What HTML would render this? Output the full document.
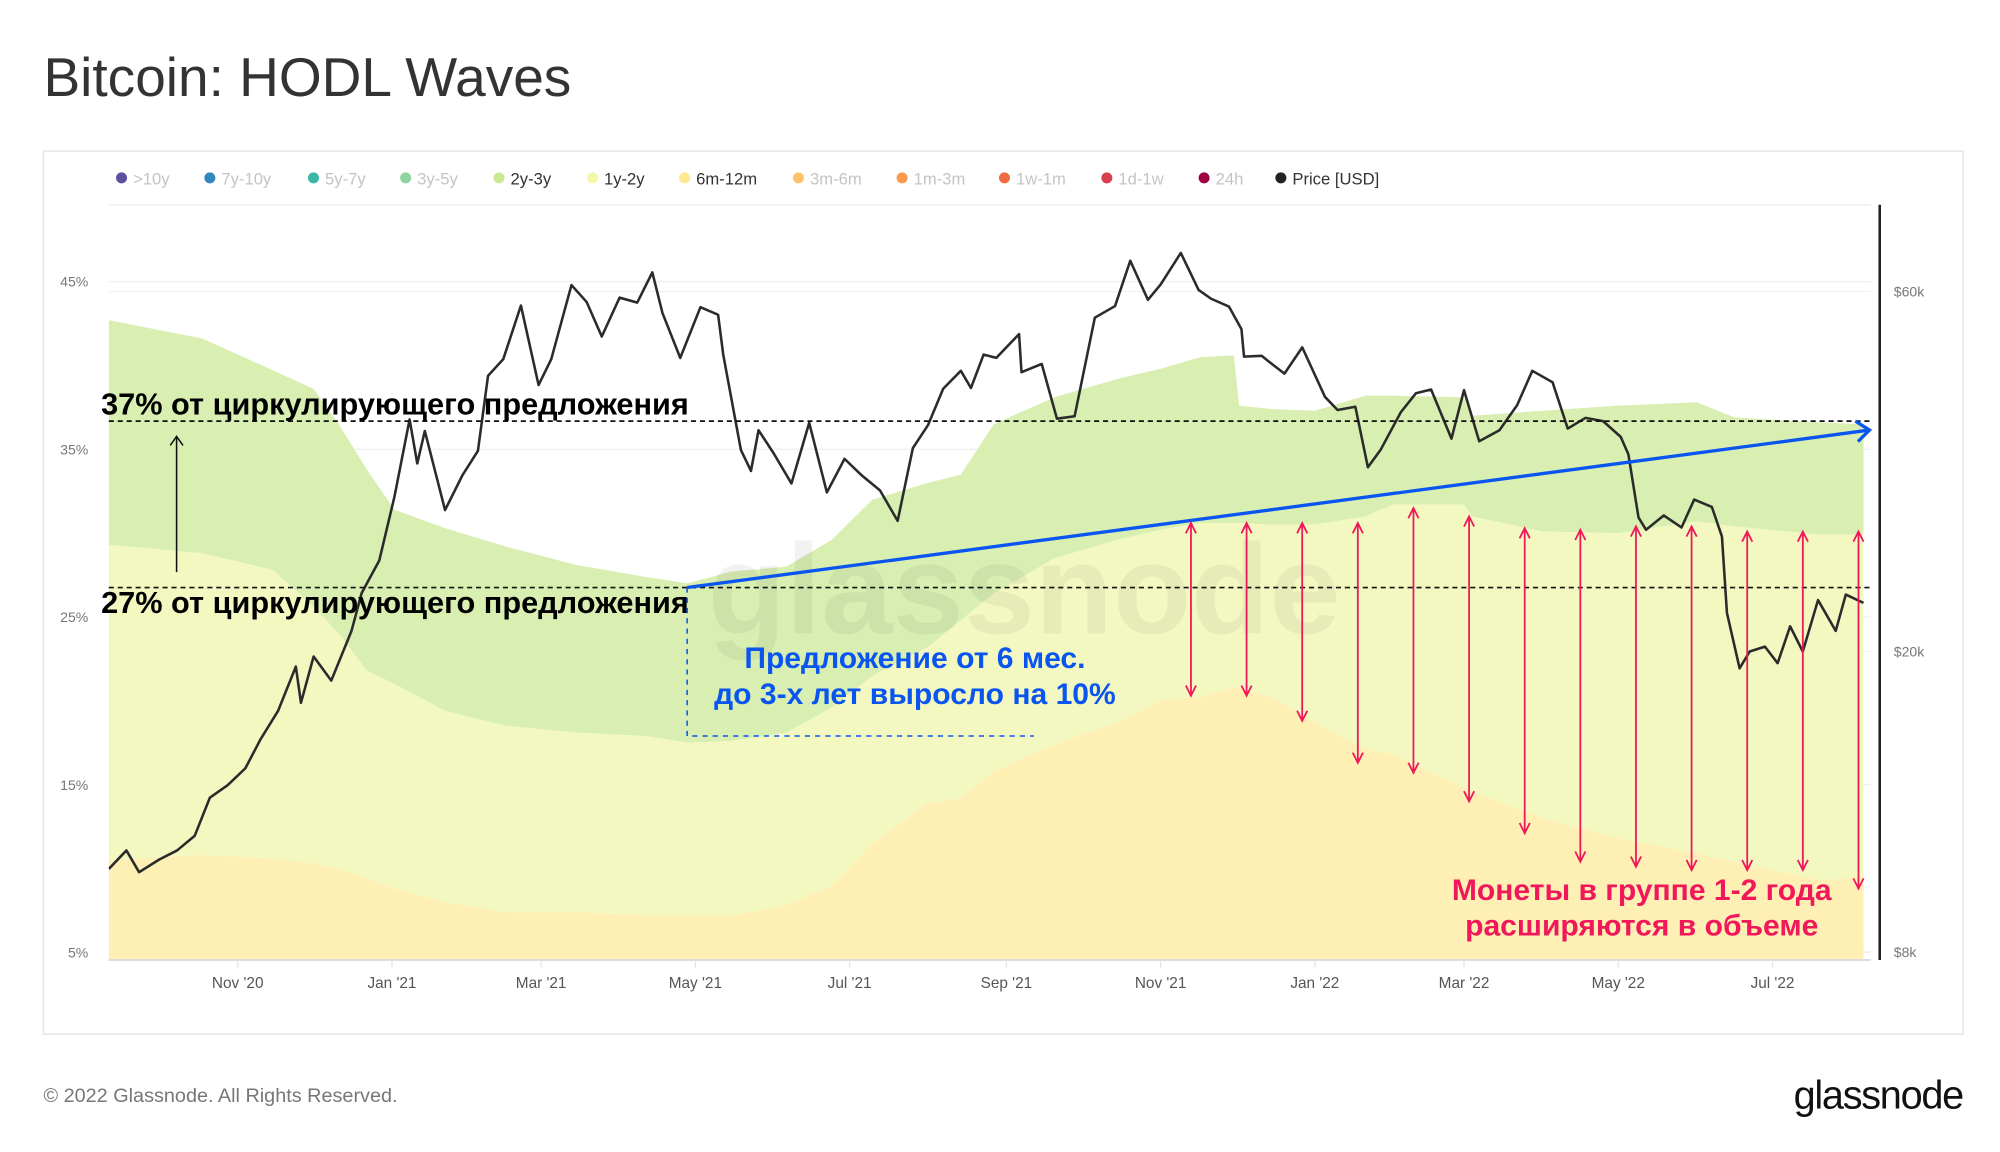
<!DOCTYPE html>
<html><head><meta charset="utf-8"><style>
html,body{margin:0;padding:0;background:#fff;}
svg{display:block;font-family:"Liberation Sans","DejaVu Sans",sans-serif;}
</style></head><body>
<svg id="chart" width="2000" height="1152" viewBox="0 0 1563 900" preserveAspectRatio="none" xmlns="http://www.w3.org/2000/svg">
<text x="34" y="75" font-size="43" fill="#333">Bitcoin: HODL Waves</text>
<rect x="34" y="118" width="1500" height="690" fill="#fff" stroke="#e6e6e6" stroke-width="1.2"/>
<g id="legend"></g>
<g id="grid"></g>
<defs><clipPath id="plotclip"><rect x="85" y="160" width="1377" height="590"/></clipPath></defs>
<g id="bands" clip-path="url(#plotclip)"></g>
<text x="553" y="495" font-size="100" font-weight="bold" fill="#000" fill-opacity="0.05">glassnode</text>
<g id="price" clip-path="url(#plotclip)"></g>
<g id="axes"></g>
<g id="annot"></g>
<text x="34" y="861" font-size="15.5" fill="#777">© 2022 Glassnode. All Rights Reserved.</text>
<text x="1534" y="866" font-size="31" text-anchor="end" fill="#111" letter-spacing="-1">glassnode</text>
</svg>
<script>
const bandDates=["2020-09-11","2020-10-18","2020-11-15","2020-12-01","2020-12-11","2020-12-22","2021-01-02","2021-01-22","2021-02-15","2021-03-15","2021-04-11","2021-04-28","2021-05-15","2021-06-06","2021-06-24","2021-07-10","2021-08-01","2021-08-14","2021-08-27","2021-09-20","2021-10-15","2021-11-01","2021-11-17","2021-11-30","2021-12-02","2021-12-15","2022-01-01","2022-01-21","2022-02-01","2022-03-01","2022-03-04","2022-04-01","2022-05-01","2022-06-01","2022-06-16","2022-07-20","2022-08-06"];
const share6m12m=[10.5,10.8,10.6,10.3,10.0,9.4,8.8,8.0,7.4,7.4,7.2,7.2,7.2,7.8,9.0,11.5,13.9,14.2,15.8,17.4,18.7,20.0,20.2,20.8,20.8,20.2,18.7,17.1,16.8,14.8,14.6,13.0,11.8,10.9,10.4,9.3,9.5];
const share1y2y=[18.8,18.0,17.2,15.3,14.0,12.4,12.2,11.4,11.1,10.7,10.7,10.3,10.4,10.3,10.6,10.0,9.3,10.6,10.6,11.1,10.9,10.2,10.4,9.8,9.8,10.3,11.8,13.9,14.9,16.9,16.4,17.1,18.2,19.8,20.0,20.6,20.4];
const share2y3y=[13.4,12.8,11.9,13.0,12.5,12.0,10.4,10.9,10.7,10.0,9.5,9.5,10.1,9.9,10.0,10.5,9.8,8.7,10.1,9.6,9.6,9.6,9.9,10.0,7.0,6.9,6.8,7.2,6.5,6.4,6.0,7.2,7.6,7.1,6.5,6.7,6.6];
const priceDates=["2020-09-11","2020-09-18","2020-09-23","2020-10-01","2020-10-08","2020-10-15","2020-10-21","2020-10-28","2020-11-04","2020-11-10","2020-11-17","2020-11-24","2020-11-26","2020-12-01","2020-12-08","2020-12-16","2020-12-20","2020-12-27","2021-01-02","2021-01-08","2021-01-11","2021-01-14","2021-01-22","2021-01-29","2021-02-04","2021-02-08","2021-02-14","2021-02-21","2021-02-28","2021-03-05","2021-03-13","2021-03-19","2021-03-25","2021-04-01","2021-04-08","2021-04-14","2021-04-18","2021-04-25","2021-05-03","2021-05-10","2021-05-12","2021-05-19","2021-05-23","2021-05-26","2021-06-01","2021-06-08","2021-06-15","2021-06-22","2021-06-29","2021-07-06","2021-07-13","2021-07-20","2021-07-26","2021-08-01","2021-08-07","2021-08-14","2021-08-18","2021-08-23","2021-08-28","2021-09-06","2021-09-07","2021-09-15","2021-09-21","2021-09-28","2021-10-06","2021-10-14","2021-10-20","2021-10-27","2021-11-01","2021-11-09","2021-11-16","2021-11-21","2021-11-28","2021-12-03","2021-12-04","2021-12-11","2021-12-14","2021-12-20","2021-12-27","2022-01-05","2022-01-10","2022-01-17","2022-01-22","2022-01-27","2022-02-04","2022-02-10","2022-02-16","2022-02-24","2022-03-01","2022-03-07","2022-03-15","2022-03-22","2022-03-28","2022-04-05","2022-04-11","2022-04-18","2022-04-25","2022-05-02","2022-05-05","2022-05-09","2022-05-12","2022-05-19","2022-05-26","2022-05-31","2022-06-07","2022-06-11","2022-06-13","2022-06-18","2022-06-22","2022-06-28","2022-07-03","2022-07-08","2022-07-13","2022-07-19","2022-07-26","2022-07-30","2022-08-06"];
const priceK=[10.3,10.9,10.2,10.6,10.9,11.4,12.8,13.3,14.0,15.3,16.7,19.1,17.1,19.7,18.3,21.3,23.9,26.4,32.1,40.6,35.5,39.2,30.8,34.3,36.9,46.4,48.8,57.5,45.1,48.8,61.2,58.1,52.3,58.9,58.0,63.6,56.2,49.0,57.2,55.9,49.5,37.0,34.7,39.3,36.6,33.4,40.2,32.5,36.0,34.2,32.7,29.8,37.2,39.9,44.6,47.1,44.7,49.5,49.0,52.7,46.9,48.1,40.7,41.0,55.4,57.4,65.9,58.5,61.3,67.5,60.3,58.7,57.3,53.5,49.2,49.3,48.4,46.7,50.6,43.5,41.8,42.2,35.1,37.0,41.5,44.0,44.5,38.3,44.4,38.0,39.3,42.4,47.1,45.5,39.5,40.8,40.4,38.5,36.5,30.1,29.0,30.3,29.2,31.8,31.1,28.4,22.5,19.0,20.0,20.3,19.3,21.6,20.0,23.4,21.3,23.8,23.2];
const leftTicks=[45,35,25,15,5];
const rightTicks=[60,20,8];
const xTickLabels=["Nov '20","Jan '21","Mar '21","May '21","Jul '21","Sep '21","Nov '21","Jan '22","Mar '22","May '22","Jul '22"];
const xTickDates=["2020-11-01","2021-01-01","2021-03-01","2021-05-01","2021-07-01","2021-09-01","2021-11-01","2022-01-01","2022-03-01","2022-05-01","2022-07-01"];
const legendNames=[">10y","7y-10y","5y-7y","3y-5y","2y-3y","1y-2y","6m-12m","3m-6m","1m-3m","1w-1m","1d-1w","24h","Price [USD]"];
const legendColors=["#5e4fa2","#3288bd","#3cb7a6","#8fd49f","#c9e88f","#f3f7a6","#fee98f","#fdc26a","#f99a4f","#ef6c43","#d9404f","#9e0142","#222"];
const legendActive=[0,0,0,0,1,1,1,0,0,0,0,0,1];
const pinkArrowDates=["2021-11-13","2021-12-05","2021-12-27","2022-01-18","2022-02-09","2022-03-03","2022-03-25","2022-04-16","2022-05-08","2022-05-30","2022-06-21","2022-07-13","2022-08-04"];
const pinkArrowTopPct=[30.6,30.6,30.6,30.6,31.5,31.0,30.3,30.2,30.4,30.4,30.1,30.1,30.1];
const pinkArrowBotPct=[20.3,20.3,18.8,16.3,15.7,14.0,12.1,10.4,10.1,9.9,9.9,9.9,8.8];

const NS="http://www.w3.org/2000/svg";
const X0=85,X1=1462,YB=750,YT=160;
const day0=Date.parse("2020-09-11");
const xs=d=>X0+(Date.parse(d)-day0)/86400000*1.976;
const ys=p=>744-(p-5)*13.1;
const yp=k=>509-256*Math.log(k/20);
function mk(tag,attrs,parent){const e=document.createElementNS(NS,tag);for(const k in attrs)e.setAttribute(k,attrs[k]);parent.appendChild(e);return e;}
const G=id=>document.getElementById(id);

// legend (layout positions)
const legendTextX=[104,173,254,326,399,472,544,633,714,794,874,950,1010];
legendNames.forEach((n,i)=>{
  const g=mk('g',{},G('legend'));
  
  
  const lx=legendTextX[i];
  mk('circle',{cx:lx-9,cy:139,r:4.3,fill:legendColors[i]},g);
  const t=mk('text',{x:lx,y:144,'font-size':13,fill:legendActive[i]?'#333':'#c4c4c4'},g);
  t.textContent=n;
});
// grid
[160].concat(leftTicks.map(ys)).forEach(y=>{const l=mk('line',{x1:X0,x2:X1,y1:y,y2:y,stroke:'#efefef','stroke-width':1},G('grid'));});
rightTicks.forEach(k=>{const l=mk('line',{x1:X0,x2:X1,y1:yp(k),y2:yp(k),stroke:'#f1f1f1','stroke-width':1},G('grid'));});
// bands
const bx=bandDates.map(xs);
const c1=share6m12m.map(v=>v), c2=share1y2y.map((v,i)=>v+c1[i]), c3=share2y3y.map((v,i)=>v+c2[i]);
function area(top,bot,color,name){
  let d='M'+bx.map((x,i)=>x.toFixed(1)+','+ys(top[i]).toFixed(1)).join('L');
  for(let i=bx.length-1;i>=0;i--) d+='L'+bx[i].toFixed(1)+','+(bot?ys(bot[i]):820).toFixed(1);
  const p=mk('path',{d:d+'Z',fill:color},G('bands'));
  
  
}
area(c3,c2,'#d9efb1','band-2y-3y');
area(c2,c1,'#f3f8c1','band-1y-2y');
area(c1,null,'#feefb4','band-6m-12m');
// price
const pd='M'+priceDates.map((d,i)=>xs(d).toFixed(1)+','+yp(priceK[i]).toFixed(1)).join('L');
const pl=mk('path',{d:pd,fill:'none',stroke:'#2b2b2b','stroke-width':2,'stroke-linejoin':'round'},G('price'));


// axes
const A=G('axes');
mk('line',{x1:X0,x2:X1,y1:YB,y2:YB,stroke:'#dcdde3','stroke-width':1.5},A);
mk('line',{x1:1469,x2:1469,y1:160,y2:750,stroke:'#222','stroke-width':2},A);
leftTicks.forEach(p=>{const t=mk('text',{x:69,y:ys(p)+4,'font-size':11,fill:'#777','text-anchor':'end'},A);t.textContent=p+'%';});
rightTicks.forEach(k=>{const t=mk('text',{x:1480,y:yp(k)+4,'font-size':11,fill:'#777'},A);t.textContent='$'+k+'k';});
xTickDates.forEach((d,i)=>{const x=xs(d);mk('line',{x1:x,x2:x,y1:YB,y2:YB+6,stroke:'#e5e5e5'},A);const t=mk('text',{x:x,y:772,'font-size':12,fill:'#555','text-anchor':'middle'},A);t.textContent=xTickLabels[i];});
// annotations
const N=G('annot');
const y37=329,y27=459;
mk('line',{x1:X0,x2:X1,y1:y37,y2:y37,stroke:'#111','stroke-width':1.3,'stroke-dasharray':'4,3'},N);
mk('line',{x1:X0,x2:X1,y1:y27,y2:y27,stroke:'#111','stroke-width':1.3,'stroke-dasharray':'4,3'},N);
let t=mk('text',{x:79,y:324,'font-size':24,'font-weight':'bold',fill:'#000'},N);t.textContent='37% от циркулирующего предложения';
t=mk('text',{x:79,y:479,'font-size':24,'font-weight':'bold',fill:'#000'},N);t.textContent='27% от циркулирующего предложения';
mk('path',{d:'M138,447L138,342M133,348L138,341L143,348',stroke:'#111','stroke-width':1.2,fill:'none'},N);
mk('path',{d:'M537,459L1461,336M1450,329L1461,336L1452,345',stroke:'#0a55f0','stroke-width':2.6,fill:'none'},N);
mk('path',{d:'M537,459L537,575L808,575',stroke:'#0a55f0','stroke-width':1.2,fill:'none','stroke-dasharray':'4,4'},N);
t=mk('text',{x:715,y:522,'font-size':23.5,'font-weight':'bold',fill:'#0a55f0','text-anchor':'middle'},N);t.textContent='Предложение от 6 мес.';
t=mk('text',{x:715,y:550,'font-size':23.5,'font-weight':'bold',fill:'#0a55f0','text-anchor':'middle'},N);t.textContent='до 3-х лет выросло на 10%';
pinkArrowDates.forEach((d,i)=>{const x=xs(d),a=ys(pinkArrowTopPct[i]),b=ys(pinkArrowBotPct[i]);
 const p=mk('path',{d:`M${x},${a}L${x},${b}M${x-4},${a+8}L${x},${a}L${x+4},${a+8}M${x-4},${b-8}L${x},${b}L${x+4},${b-8}`,stroke:'#f0185a','stroke-width':1.4,fill:'none'},N);
 });
t=mk('text',{x:1283,y:703,'font-size':23.5,'font-weight':'bold',fill:'#f0185a','text-anchor':'middle'},N);t.textContent='Монеты в группе 1-2 года';
t=mk('text',{x:1283,y:731,'font-size':23.5,'font-weight':'bold',fill:'#f0185a','text-anchor':'middle'},N);t.textContent='расширяются в объеме';
</script>
</body></html>
